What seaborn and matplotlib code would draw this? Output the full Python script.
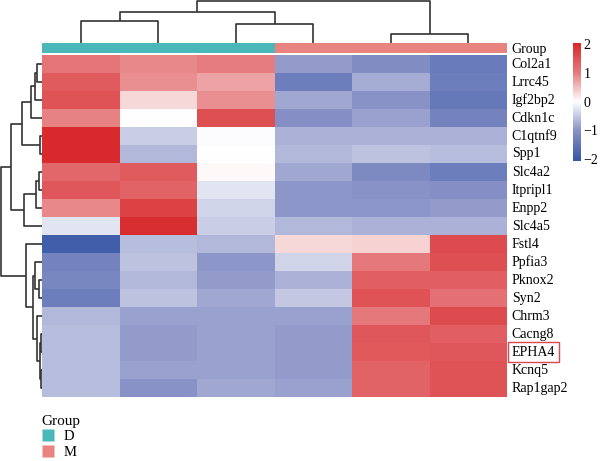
import matplotlib
matplotlib.use("Agg")
import matplotlib.pyplot as plt
import numpy as np
import pandas as pd
import seaborn as sns
from matplotlib.colors import LinearSegmentedColormap, ListedColormap
from matplotlib.lines import Line2D

# data (z-scores), rows in the displayed (clustered) order
genes = ["Col2a1", "Lrrc45", "Igf2bp2", "Cdkn1c", "C1qtnf9", "Spp1", "Slc4a2",
         "Itpripl1", "Enpp2", "Slc4a5", "Fstl4", "Ppfia3", "Pknox2", "Syn2",
         "Chrm3", "Cacng8", "EPHA4", "Kcnq5", "Rap1gap2"]
samples = ["D1", "D2", "D3", "M1", "M2", "M3"]
groups = ["D", "D", "D", "M", "M", "M"]

D1 = [1.1, 1.4, 1.5, 0.95, 2.0, 2.0, 1.25, 1.45, 0.9, -0.25,
      -1.9, -1.25, -1.2, -1.35, -0.65, -0.6, -0.6, -0.6, -0.6]
D2 = [0.9, 0.85, 0.3, 0.0, -0.45, -0.65, 1.4, 1.3, 1.7, 1.95,
      -0.6, -0.55, -0.65, -0.55, -0.85, -0.9, -0.9, -0.85, -1.0]
D3 = [1.0, 0.7, 0.85, 1.55, -0.02, 0.0, 0.05, -0.25, -0.4, -0.45,
      -0.65, -0.95, -0.9, -0.8, -0.85, -0.85, -0.85, -0.85, -0.8]
M1 = [-0.9, -1.35, -0.8, -1.05, -0.7, -0.65, -0.8, -0.95, -0.95, -0.65,
      0.3, -0.4, -0.7, -0.5, -0.85, -0.9, -0.9, -0.9, -0.85]
M2 = [-1.1, -0.75, -1.0, -0.85, -0.7, -0.55, -1.15, -1.0, -0.95, -0.7,
      0.35, 1.05, 1.35, 1.5, 1.05, 1.45, 1.42, 1.3, 1.3]
M3 = [-1.4, -1.35, -1.45, -1.25, -0.7, -0.6, -1.35, -1.05, -0.9, -0.7,
      1.6, 1.55, 1.35, 1.15, 1.6, 1.35, 1.45, 1.5, 1.5]

# dendrogram merges: (left node, right node, height); leaves are display positions
row_links = [(0, 1, 5), (19, 2, 7), (20, 3, 11.3), (4, 5, 2), (21, 22, 19.7),
             (6, 7, 2.7), (24, 8, 6), (25, 9, 17.7), (23, 26, 31.3),
             (12, 13, 2.7), (11, 28, 7), (15, 16, 1.2), (17, 18, 0.8),
             (30, 31, 2), (14, 32, 5.3), (29, 33, 8.7), (10, 34, 16), (27, 35, 41)]
col_links = [(0, 1, 22), (2, 3, 19), (4, 5, 9), (6, 7, 31), (9, 8, 42)]

df = pd.DataFrame({"D1": D1, "D2": D2, "D3": D3, "M1": M1, "M2": M2, "M3": M3},
                  index=genes)[samples]

sns.set_style("white")
plt.rcParams["font.family"] = ["Liberation Serif", "DejaVu Serif"]
plt.rcParams["text.color"] = "black"
plt.rcParams["xtick.color"] = "black"
plt.rcParams["ytick.color"] = "black"
FS = 10

group_colors = {"D": "#4ab8b9", "M": "#e8837f"}
cmap = LinearSegmentedColormap.from_list(
    "bwr_ph",
    [(0.0, "#3656a5"), (0.26, "#8a93c7"), (0.5, "#ffffff"),
     (0.74, "#e67e81"), (1.0, "#d72628")])

fig = plt.figure(figsize=(6, 4.61), dpi=100)
W, H = 600, 461


def px_axes(x0, y0, x1, y1):
    return fig.add_axes([x0 / W, 1 - y1 / H, (x1 - x0) / W, (y1 - y0) / H])


def draw_dendro(ax, links, n, side):
    pos = {i: i + 0.5 for i in range(n)}
    hgt = {i: 0.0 for i in range(n)}
    for k, (a, b, h) in enumerate(links):
        xs = [pos[a], pos[a], pos[b], pos[b]]
        ys = [hgt[a], h, h, hgt[b]]
        if side == "top":
            ax.plot(xs, ys, color="#333333", lw=1.2, solid_capstyle="butt")
        else:
            ax.plot(ys, xs, color="#333333", lw=1.2, solid_capstyle="butt")
        pos[n + k] = (pos[a] + pos[b]) / 2
        hgt[n + k] = h
    ax.axis("off")


# main heatmap + colorbar
ax = px_axes(42, 55, 507, 397)
cax = px_axes(572.5, 42.7, 580.5, 160.7)
sns.heatmap(df, ax=ax, cmap=cmap, vmin=-2.05, vmax=2.05, cbar_ax=cax,
            xticklabels=False, yticklabels=True)
ax.yaxis.tick_right()
ax.tick_params(axis="y", length=0, pad=3.5, labelsize=FS, rotation=0)
ax.set_xlabel("")
ax.set_ylabel("")
for lab in ax.get_yticklabels():
    lab.set_verticalalignment("center")
    if lab.get_text() == "EPHA4":
        lab.set_bbox(dict(boxstyle="square,pad=0.25", facecolor="none",
                          edgecolor="#d9474a", lw=1.0))

cbar = ax.collections[0].colorbar
cbar.set_ticks([-2, -1, 0, 1, 2])
cbar.outline.set_visible(False)
cax.tick_params(length=0, pad=2, labelsize=FS)

# group annotation bar
gax = px_axes(42, 43, 507, 52.7)
gcodes = np.array([[0 if g == "D" else 1 for g in groups]])
sns.heatmap(gcodes, ax=gax, cmap=ListedColormap([group_colors["D"], group_colors["M"]]),
            vmin=0, vmax=1, cbar=False, xticklabels=False, yticklabels=["Group"])
gax.yaxis.tick_right()
gax.tick_params(axis="y", length=0, pad=3.5, labelsize=FS, rotation=0)

# dendrograms
dax = px_axes(42, 0, 507, 43)
draw_dendro(dax, col_links, len(samples), "top")
dax.set_xlim(0, len(samples))
dax.set_ylim(0, 43)

rax = px_axes(0, 55, 42, 397)
draw_dendro(rax, row_links, len(genes), "left")
rax.set_ylim(len(genes), 0)
rax.set_xlim(42, 0)

# group legend
handles = [Line2D([], [], marker="s", linestyle="none", markersize=8,
                  markerfacecolor=group_colors[g], markeredgecolor="none", label=g)
           for g in ["D", "M"]]
leg = fig.legend(handles=handles, title="Group", loc="upper left",
                 bbox_to_anchor=(36 / W, 1 - 409 / H), frameon=False,
                 fontsize=FS + 0.5, title_fontsize=FS + 1, alignment="left",
                 handlelength=0.9, handletextpad=0.6, labelspacing=0.15,
                 borderaxespad=0)

fig.savefig("out.png", dpi=100)
